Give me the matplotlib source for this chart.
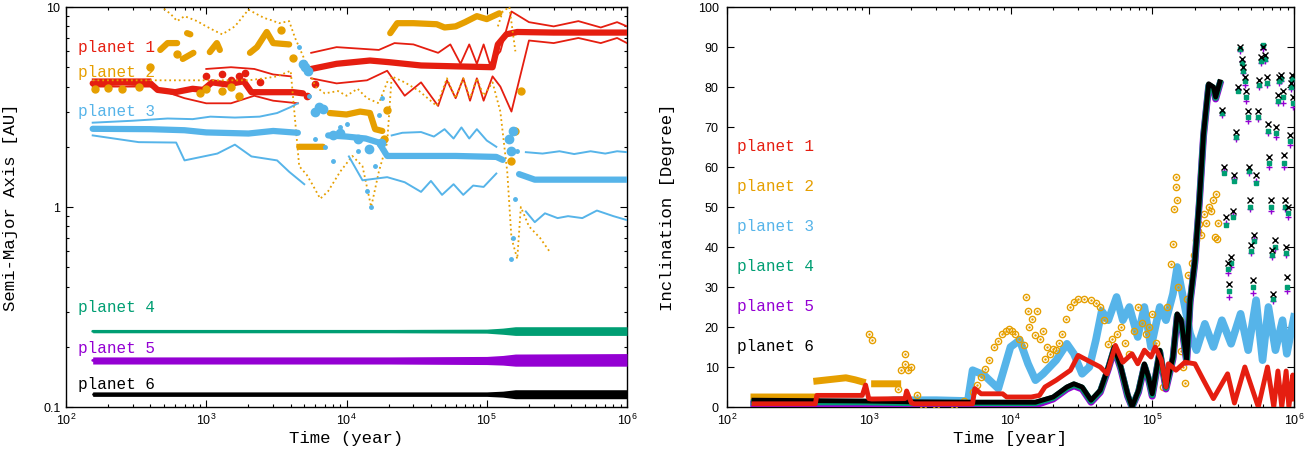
import matplotlib
matplotlib.use("Agg")
import matplotlib.pyplot as plt
import matplotlib.transforms as mtransforms
from matplotlib.ticker import LogLocator, FuncFormatter, MultipleLocator, NullFormatter
import numpy as np

nan = np.nan

RED = '#e51e10'
ORANGE = '#e69f00'
BLUE = '#56b4e9'
GREEN = '#009e73'
PURPLE = '#9400d3'
BLACK = '#000000'

labels = ['planet 1', 'planet 2', 'planet 3', 'planet 4', 'planet 5', 'planet 6']
colors = [RED, ORANGE, BLUE, GREEN, PURPLE, BLACK]
label_a = [6.24, 4.73, 2.99, 0.313, 0.197, 0.129]
label_inc = [65, 55, 45, 35, 25, 15]

# ---------------- semi-major axis (left) ----------------
# planet 1
a1_t = [155, 260, 400, 450, 600, 800, 950, 1100, 1400, 1850, 2100, 3000, 4200, 4900, nan,
        5600, 8500, 14700, 20000, 34000, 60000, 110000, 120000, 138000, 165000, 300000, 1000000]
a1 = [4.15, 4.2, 4.15, 3.85, 3.75, 3.9, 3.85, 4.2, 4.1, 4.25, 3.75, 3.75, 3.75, 3.7, nan,
      4.9, 5.2, 5.4, 5.3, 5.1, 5.05, 5.0, 6.5, 7.3, 7.5, 7.45, 7.45]
Q1_t = [155, 400, nan, 1000, 1500, 2200, 3000, 4000, nan, 5600, 8500, 17000, 22000, 30000, 45000,
        55000, 65000, 75000, 85000, 95000, 105000, 125000, 150000, 200000, 300000, 450000,
        650000, 850000, 1000000]
Q1 = [4.35, 4.35, nan, 4.9, 5.0, 4.9, 4.6, 4.5, nan, 5.9, 6.3, 6.1, 6.6, 6.5, 5.9,
      6.5, 5.2, 6.5, 5.2, 6.5, 5.2, 6.0, 9.5, 8.4, 8.0, 8.5, 7.9, 8.4, 8.0]
q1_t = [155, 400, 700, 1000, 1500, 2200, 3000, 4500, nan, 5600, 8500, 14000, 19500, 26000, 34000,
        45000, 52000, 60000, 68000, 76000, 85000, 95000, 110000, 125000, 150000, 200000,
        300000, 450000, 650000, 850000, 1000000]
q1 = [4.0, 4.0, 3.5, 3.3, 3.3, 3.6, 3.4, 3.3, nan, 4.4, 4.15, 4.3, 4.8, 3.6, 4.2,
      3.2, 4.3, 3.5, 4.4, 3.4, 4.4, 3.4, 4.5, 4.0, 3.0, 6.8, 6.6, 7.0, 6.6, 7.0, 6.6]
blob1_t = [1300, 1500, 1700, 1900, 2400, 5200, 6000, 1000]
blob1 = [4.6, 4.3, 4.5, 4.7, 4.2, 3.6, 4.1, 4.5]

# planet 2
a2_t = [470, 530, 620, nan, 680, 810, nan, 730, 770, nan, 1060, 1190, 1250, nan,
        2050, 2300, 2700, 3000, 3900, nan, 4600, 5500, 6800, nan, 7600, 10000, 12500, 14700,
        16000, 18000, nan, 20500, 23000, 30000, 44000, 50000, 60000, 70000, 85000, 100000, 123000]
a2 = [6.1, 6.6, 6.6, nan, 5.5, 5.9, nan, 7.4, 7.3, nan, 5.95, 6.6, 6.1, nan,
      5.9, 6.3, 7.5, 6.6, 6.5, nan, 2.0, 2.0, 2.0, nan, 2.95, 2.9, 3.0, 2.95,
      2.45, 2.4, nan, 7.4, 8.3, 8.3, 8.2, 7.9, 8.0, 8.4, 9.0, 8.7, 9.3]
blob2_t = [400, 900, 1300, 1500, 1700, 4150, 3400, 19500, 18500, 150000, 175000, 160000, 620,
           1000, 160, 200, 250, 330]
blob2 = [5.0, 3.7, 3.8, 4.0, 3.6, 5.55, 7.7, 3.05, 2.2, 1.7, 3.8, 2.4, 5.8, 3.9,
         3.9, 3.95, 3.9, 4.0]
q2_t = [155, 1000, 2000, 2600, 3200, 4000, 4600, 5200, 5700, 6500, 7400, 9000, 11000, 13000, 15000,
        17000, 19500, 21000, 26000, 33000, 44000, 52000, 60000, 68000, 76000, 85000, 95000,
        110000, 125000, 140000, 150000, 165000, 175000, 200000, 240000, 280000]
q2 = [4.3, 4.3, 4.3, 4.4, 4.5, 4.8, 1.6, 1.45, 1.3, 1.1, 1.2, 1.5, 1.8, 1.6, 1.0,
      1.5, 2.1, 4.5, 4.2, 3.8, 3.2, 4.4, 3.5, 4.4, 3.5, 4.4, 3.6,
      4.2, 3.0, 1.5, 0.7, 0.55, 1.0, 0.8, 0.7, 0.6]
Q2_t = [500, 560, 620, 700, 860, 1000, 1150, 1300, 1600, 2000, 2300, 2600, 2900, 3300, 3900,
        4300, 5000, 6000, 7000, 8700, 10000, 12000, 14000, 17000, 20000, nan, 120000, 130000,
        145000, 160000]
Q2 = [9.8, 9.2, 8.5, 9.0, 8.5, 8.0, 7.6, 7.3, 8.0, 9.7, 9.2, 8.8, 8.6, 8.3, 8.5,
      7.0, 5.5, 4.0, 3.7, 3.8, 3.6, 3.9, 3.5, 3.3, 4.4, nan, 8.0, 9.5, 10.0, 6.0]

# planet 3
a3_t = [155, 400, 700, 1000, 2000, 3000, 4500, nan, 7400, 10000, 13700, 17000, 19500,
        60000, 117000, 130000, nan, 170000, 220000, 1000000]
a3 = [2.46, 2.45, 2.42, 2.36, 2.33, 2.4, 2.35, nan, 2.28, 2.25, 2.2, 2.1, 1.80,
      1.80, 1.78, 1.72, nan, 1.46, 1.37, 1.37]
blob3_t = [4900, 5100, 5300, 6000, 6400, 6800, 8000, 9000, 12000, 14500, 17500, 145000, 150000, 155000]
blob3 = [5.2, 5.0, 4.8, 3.0, 3.16, 3.1, 2.3, 2.35, 2.2, 1.95, 2.1, 2.2, 1.9, 2.4]
Q3_t = [155, 300, 530, 800, 1070, 1600, 2400, 3200, 4000, 4500, nan, 21000, 25000, 34000, 42000,
        50000, 58000, 66000, 75000, 85000, 100000, 117000, nan, 190000, 250000, 330000, 420000,
        550000, 700000, 850000, 1000000]
Q3 = [2.64, 2.7, 2.77, 2.75, 2.83, 2.8, 2.83, 2.95, 3.16, 3.3, nan, 2.28, 2.35, 2.37, 2.25,
      2.45, 2.2, 2.5, 2.2, 2.45, 2.15, 2.0, nan, 1.88, 1.85, 1.9, 1.84, 1.9, 1.85, 1.9, 1.88]
q3_t = [155, 330, 610, 700, 1200, 1600, 2100, 3200, 3900, 5000, nan, 10400, 13000, 19500, 26000,
        34000, 40000, 48000, 58000, 68000, 80000, 95000, 117000, nan, 190000, 220000, 260000,
        320000, 380000, 480000, 610000, 800000, 1000000]
q3 = [2.28, 2.11, 2.1, 1.71, 1.85, 2.05, 1.79, 1.71, 1.5, 1.3, nan, 1.79, 1.36, 1.41, 1.33,
      1.19, 1.35, 1.15, 1.3, 1.15, 1.28, 1.26, 1.47, nan, 0.95, 0.84, 0.93, 0.88, 0.9, 0.88,
      0.96, 0.9, 0.86]
dots3_t = [4600, 5400, 6000, 7000, 8000, 9000, 10000, 12000, 14000, 15000, 16000, 17000,
           18000, 150000, 155000, 160000, 165000]
dots3 = [6.3, 3.6, 2.2, 2.0, 1.7, 2.5, 2.6, 1.9, 1.2, 1.0, 1.6, 2.9, 3.5, 0.55, 0.7,
         1.1, 1.9]

# planets 4-6 (bands)
band_t = [155, 20000, 100000, 130000, 160000, 1000000]
a4 = [0.239, 0.239, 0.239, 0.239, 0.240, 0.240]
a4_lo = [0.235, 0.235, 0.234, 0.231, 0.228, 0.228]
a4_hi = [0.244, 0.244, 0.245, 0.248, 0.252, 0.252]
a5 = [0.171, 0.171, 0.171, 0.171, 0.172, 0.172]
a5_lo = [0.164, 0.164, 0.163, 0.162, 0.160, 0.160]
a5_hi = [0.178, 0.178, 0.179, 0.181, 0.184, 0.185]
a6 = [0.116, 0.116, 0.116, 0.116, 0.116, 0.116]
a6_lo = [0.113, 0.113, 0.113, 0.112, 0.110, 0.110]
a6_hi = [0.119, 0.119, 0.119, 0.120, 0.122, 0.122]

# ---------------- inclination (right) ----------------
i1_t = [155, 420, 430, 900, 950, 1000, 1050, 1800, 1850, 2000, 2100, 5400, 5600, 6200, 8800,
        9400, 14000, 16000, 17500, 21000, 26500, 30000, 37000, 43000, 48000, 52000, 55000,
        62000, 72000, 79000, 88000, 98000, 105000, 116000, 125000, 130000, 147000, 170000,
        200000, 230000, 270000, 340000, 380000, 450000, 560000, 650000, 720000, 770000,
        820000, 880000, 920000, 980000, 1000000]
i1 = [0.8, 0.8, 2.9, 2.9, 5.5, 2.1, 2.0, 2.1, 4.0, 1.0, 0.8, 0.8, 4.6, 3.3, 3.3,
      2.5, 2.5, 2.9, 5.0, 6.7, 9.2, 12.9, 11.2, 10.0, 8.3, 12.5, 15.4,
      11.2, 13.3, 10.8, 14.2, 12.5, 15.0, 11.7, 5.0, 10.8, 9.2, 11.2,
      10.8, 6.7, 2.1, 8.3, 1.0, 10.0, 0.0, 10.0, 0.0, 9.0,
      0.0, 9.0, 0.0, 8.0, 2.0]

i2_band_t = [155, 425, nan, 430, 690, 800, 900, nan, 1100, 1600]
i2_band = [2.5, 2.5, nan, 6.5, 7.3, 6.8, 6.3, nan, 5.8, 5.8]
i2_t = [1000, 1050, 1600, 1700, 1800, 1800, 1900, 2000, 2200, 2400, 3000, 4000, 4700, 5400,
        5800, 6200, 6600, 7100, 7600, 8200, 8700, 9300, 9800, 10300, 10800, 11500, 12400,
        12800, 13200, 13600, 14200, 14800, 15500, 16200, 17000, 17500, 18200, 19000, 20000,
        21000, 22000, 23000, 24500, 26500, 28000, 30000, 33000, 37000, 40000, 43000, 46000,
        49000, 52000, 56000, 60000, 64000, 69000, 74000, 79000, 84000, 90000, 95000, 100000,
        106000, 113000, 120000, 128000, 135000, 140000, 143000, 146000, 148000, 150000,
        152000, 156000, 160000, 165000, 170000, 175000, 180000, 190000, 197000, 205000,
        210000, 215000, 220000, 230000, 240000, 250000, 260000, 270000, 275000, 280000,
        285000, 290000]
i2 = [18.3, 16.7, 4.6, 9.2, 13.3, 10.8, 9.2, 10.0, 2.9, 0.4, 0.4, 0.4, 1.5, 3.75,
      5.5, 7.5, 9.5, 11.7, 15.0, 16.5, 18.3, 19.0, 19.6, 19.0, 18.3, 17.0, 15.4,
      27.5, 24.0, 20.0, 22.0, 18.0, 24.0, 17.0, 19.0, 12.0, 15.0, 13.3, 14.5,
      14.2, 16.0, 18.3, 22.0, 25.0, 26.3, 27.0, 27.0, 26.7, 26.0, 25.0, 21.7,
      15.8, 17.0, 18.3, 20.0, 16.0, 13.3, 19.0, 25.0, 21.0, 18.3, 20.0, 23.3,
      16.0, 10.0, 5.0, 25.0, 35.8, 40.8, 49.5, 57.5, 55.0, 51.7,
      30.0, 21.7, 14.0, 10.0, 6.0, 27.0, 33.0, 36.0, 38.0, 41.7,
      44.0, 45.8, 43.0, 48.3, 46.0, 50.0, 49.0, 51.7, 42.5, 53.3,
      42.0, 46.0]

i3_t = [155, 500, 560, 900, 1500, 3000, 5000, 5400, 6500, 8200, 10000, 11600, 13300, 15000,
        17000, 21000, 25000, 28000, 32000, 36000, 40000, 44000, 49000, 56000, 62000, 69000,
        79000, 88000, 98000, 113000, 125000, 140000, 150000, 170000, 185000, 205000, 235000,
        270000, 310000, 360000, 420000, 475000, 540000, 600000, 660000, 740000, 830000,
        890000, 1000000]
i3 = [0.6, 0.6, 0.2, 0.8, 1.7, 1.7, 1.5, 9.2, 8.0, 4.6, 15.0, 16.7, 10.8, 6.7,
      8.3, 11.7, 15.8, 13.3, 8.3, 10.0, 16.7, 24.0, 21.7, 27.5, 21.7, 25.0,
      17.5, 25.0, 15.0, 25.0, 21.7, 28.3, 35.0, 25.0, 18.3, 14.2, 20.8,
      15.0, 21.7, 15.8, 23.3, 14.2, 26.7, 11.7, 25.0, 14.2, 21.7,
      13.3, 22.5]

# planets 4-6: dense part then sparse points
i46_t = [155, 900, 2000, 5000, 10000, 15000, 20000, 25000, 28000, 32000, 37000, 43000, 49000,
         54000, 60000, 67000, 72000, 80000, 88000, 94000, 100000, 113000, 125000, 140000,
         150000, 160000, 175000, 185000, 200000, 215000, 230000, 250000, 270000, 280000, 300000]
i6 = [1.7, 1.5, 1.3, 1.2, 1.2, 1.2, 2.5, 5.0, 5.8, 5.0, 1.7, 4.2, 10.0,
      15.0, 10.0, 3.3, 0.0, 4.2, 10.8, 7.5, 3.3, 14.2, 5.0, 12.5,
      23.3, 21.7, 11.7, 26.7, 36.7, 51.7, 68.3, 80.8, 80.0, 77.5, 81.3]
i4 = [1.2, 1.2, 1.0, 1.0, 1.0, 1.0, 2.3, 4.8, 5.6, 4.8, 1.5, 4.0, 9.8,
      14.8, 9.8, 3.0, 0.0, 4.0, 10.5, 7.3, 3.0, 14.0, 4.8, 12.3,
      23.0, 21.5, 11.5, 26.5, 36.5, 51.5, 68.0, 80.5, 79.8, 77.3, 81.0]
i5 = [0.8, 0.8, 0.6, 0.6, 0.5, 0.5, 2.0, 4.5, 5.3, 4.5, 1.2, 3.7, 9.5,
      14.5, 9.5, 2.7, 0.0, 3.7, 10.2, 7.0, 2.7, 13.7, 4.5, 12.0,
      22.7, 21.2, 11.2, 26.2, 36.2, 51.2, 67.7, 80.2, 79.5, 77.0, 80.7]

s46_t = [310000, 320000, 330000, 340000, 350000, 360000, 370000, 380000, 390000, 400000,
         415000, 430000, 440000, 450000, 460000, 470000, 480000, 490000, 500000, 510000,
         520000, 540000, 555000, 570000, 585000, 600000, 620000, 640000, 655000, 670000,
         685000, 700000, 715000, 730000, 750000, 770000, 790000, 810000, 830000, 850000,
         865000, 880000, 895000, 910000, 930000, 950000, 970000, 990000]
s6 = [74.2, 60.0, 47.5, 36.0, 30.8, 37.5, 49.0, 58.0, 68.8, 80.0,
      90.0, 87.0, 85.0, 82.5, 79.0, 74.0, 60.0, 51.7, 40.4, 31.7,
      43.0, 58.0, 74.0, 81.7, 87.5, 90.0, 88.0, 82.5, 70.8, 62.5,
      51.7, 39.2, 28.3, 41.7, 70.0, 78.0, 82.5, 83.0, 79.0, 63.0,
      51.7, 40.0, 32.5, 50.0, 68.0, 81.0, 83.0, 77.5]
s4 = [73.5, 58.5, 45.5, 34.5, 29.0, 36.0, 47.5, 56.5, 67.5, 79.0,
      89.5, 86.0, 84.0, 81.5, 77.5, 72.5, 59.0, 50.0, 39.0, 30.0,
      41.5, 56.0, 72.5, 80.5, 86.5, 90.5, 87.0, 81.0, 69.0, 61.0,
      50.0, 38.0, 27.0, 40.0, 68.5, 76.5, 81.5, 82.0, 77.5, 61.0,
      50.0, 38.5, 30.0, 48.5, 66.5, 80.0, 82.0, 76.0]
s5 = [73.0, 59.0, 46.0, 33.5, 27.5, 35.0, 48.0, 57.0, 67.0, 79.5,
      89.0, 86.5, 83.5, 80.5, 76.5, 71.5, 58.5, 49.5, 38.5, 28.5,
      42.0, 56.5, 72.0, 80.0, 86.0, 89.5, 86.5, 80.5, 68.5, 60.0,
      49.0, 37.5, 26.5, 39.5, 67.5, 76.0, 81.0, 81.5, 76.0, 60.0,
      49.5, 38.0, 29.0, 47.5, 65.5, 79.5, 81.5, 75.0]

plt.rcParams['font.family'] = ['Liberation Sans', 'DejaVu Sans']
plt.rcParams['mathtext.default'] = 'regular'
MONO = 'Liberation Mono'

fig = plt.figure(figsize=(13.07, 4.55), dpi=100)
ax1 = fig.add_axes([66 / 1307, 48 / 455, 561 / 1307, 400 / 455])
ax2 = fig.add_axes([727 / 1307, 48 / 455, 567 / 1307, 400 / 455])


def style(ax):
    ax.tick_params(which='both', direction='in', top=True, right=True, labelsize=9, width=0.8)
    ax.tick_params(which='major', length=5)
    ax.tick_params(which='minor', length=2.5)
    ax.tick_params(axis='x', which='major', pad=4.5)
    ax.tick_params(axis='y', which='major', pad=4)
    for s in ax.spines.values():
        s.set_linewidth(1.0)


# ---- left panel ----
ax1.plot(a1_t, a1, '-', color=RED, lw=4.5, solid_capstyle='round', zorder=3)
ax1.plot(blob1_t, blob1, 'o', color=RED, ms=4.5, zorder=3)
ax1.plot(Q1_t, Q1, '-', color=RED, lw=1.3, zorder=3)
ax1.plot(q1_t, q1, '-', color=RED, lw=1.3, zorder=3)

ax1.plot(a2_t, a2, '-', color=ORANGE, lw=4.5, solid_capstyle='round', zorder=4)
ax1.plot(blob2_t, blob2, 'o', color=ORANGE, ms=5, zorder=4)
ax1.plot(q2_t, q2, ':', color=ORANGE, lw=1.3, zorder=4)
ax1.plot(Q2_t, Q2, ':', color=ORANGE, lw=1.3, zorder=4)

ax1.plot(a3_t, a3, '-', color=BLUE, lw=4.5, solid_capstyle='round', zorder=5)
ax1.plot(blob3_t, blob3, 'o', color=BLUE, ms=6, zorder=5)
ax1.plot(Q3_t, Q3, '-', color=BLUE, lw=1.4, zorder=5)
ax1.plot(q3_t, q3, '-', color=BLUE, lw=1.4, zorder=5)
ax1.plot(dots3_t, dots3, 'o', color=BLUE, ms=2.5, zorder=5)

for mid, lo, hi, c in [(a4, a4_lo, a4_hi, GREEN), (a5, a5_lo, a5_hi, PURPLE), (a6, a6_lo, a6_hi, BLACK)]:
    ax1.fill_between(band_t, lo, hi, color=c, lw=0, zorder=6)
    ax1.plot(band_t, mid, '-', color=c, lw=2, solid_capstyle='round', zorder=6)

ax1.set_xscale('log')
ax1.set_yscale('log')
ax1.set_xlim(100, 1e6)
ax1.set_ylim(0.1, 10)
ax1.yaxis.set_major_formatter(FuncFormatter(lambda v, p: '{:g}'.format(v)))
ax1.yaxis.set_minor_formatter(NullFormatter())
ax1.xaxis.set_minor_locator(LogLocator(base=10, subs=np.arange(2, 10)))
ax1.yaxis.set_minor_locator(LogLocator(base=10, subs=np.arange(2, 10)))
style(ax1)
ax1.set_xlabel('Time (year)', family=MONO, fontsize=12.5)
ax1.set_ylabel('Semi-Major Axis [AU]', family=MONO, fontsize=12.5)
ax1.xaxis.set_label_coords(0.5, -0.06)
ax1.yaxis.set_label_coords(-0.085, 0.5)

tr1 = mtransforms.blended_transform_factory(ax1.transAxes, ax1.transData)
for lab, c, y in zip(labels, colors, label_a):
    ax1.text(0.021, y, lab, color=c, family=MONO, fontsize=11.5, va='center', ha='left',
             transform=tr1, zorder=10)

# ---- right panel ----
ax2.plot(i3_t, i3, '-', color=BLUE, lw=5.5, zorder=3)
ax2.plot(i2_band_t, i2_band, '-', color=ORANGE, lw=5, zorder=4)
ax2.plot(i2_t, i2, 'o', mfc='none', mec=ORANGE, mew=1.0, ms=4.5, zorder=4)
ax2.plot(i2_t, i2, '.', color=ORANGE, ms=1.5, zorder=4)
ax2.plot(i46_t, i5, '-', color=PURPLE, lw=5, zorder=5)
ax2.plot(i46_t, i4, '-', color=GREEN, lw=4.5, zorder=6)
ax2.plot(i46_t, i6, '-', color=BLACK, lw=3.5, zorder=7)
ax2.plot(s46_t, s5, '+', color=PURPLE, ms=5, mew=1.0, zorder=5)
ax2.plot(s46_t, s4, 's', color=GREEN, ms=3.5, zorder=6)
ax2.plot(s46_t, s6, 'x', color=BLACK, ms=4.5, mew=1.0, zorder=7)
ax2.plot(i1_t, i1, '-', color=RED, lw=3.5, zorder=8)

ax2.set_xscale('log')
ax2.set_xlim(100, 1e6)
ax2.set_ylim(0, 100)
ax2.yaxis.set_major_locator(MultipleLocator(10))
ax2.xaxis.set_minor_locator(LogLocator(base=10, subs=np.arange(2, 10)))
style(ax2)
ax2.tick_params(axis='y', which='major', pad=6)
ax2.set_xlabel('Time [year]', family=MONO, fontsize=12.5)
ax2.set_ylabel('Inclination [Degree]', family=MONO, fontsize=12.5)
ax2.xaxis.set_label_coords(0.5, -0.06)
ax2.yaxis.set_label_coords(-0.092, 0.5)

tr2 = mtransforms.blended_transform_factory(ax2.transAxes, ax2.transData)
for lab, c, y in zip(labels, colors, label_inc):
    ax2.text(0.018, y, lab, color=c, family=MONO, fontsize=11.5, va='center', ha='left',
             transform=tr2, zorder=10)

fig.savefig('out.png', dpi=100)
